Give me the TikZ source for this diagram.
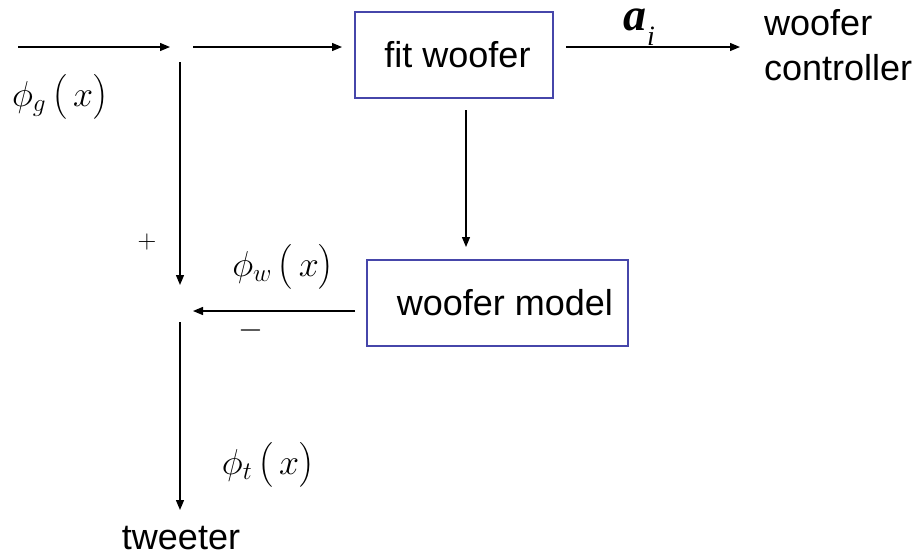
\RequirePackage{fix-cm}
\documentclass[tikz,border=0pt]{standalone}
\usepackage{amsmath}
\usepackage{fontspec}
\setmainfont{Liberation Sans}
\newfontfamily\serifit{Liberation Serif}
\usetikzlibrary{arrows.meta}
\definecolor{boxblue}{RGB}{70,70,170}
\tikzset{
  conn/.style={line width=1.3pt, -{Triangle[length=10pt,width=8pt]}},
  blockbox/.style={draw=boxblue, line width=1.2pt, inner sep=0pt, font=\fontsize{36}{43}\selectfont},
  txt/.style={inner sep=0pt, font=\fontsize{36}{45}\selectfont},
  mathlbl/.style={inner sep=0pt, font=\fontsize{36}{40}\selectfont},
}
\begin{document}
\begin{tikzpicture}[x=1pt,y=-1pt]
\useasboundingbox (0,0) rectangle (922,558);
% blocks
\node[blockbox, minimum width=198pt, minimum height=86pt] (fw) at (454,55) {\hspace{7pt}fit woofer};
\node[blockbox, minimum width=261pt, minimum height=86pt] (wm) at (497.5,303) {\hspace{15pt}woofer model};
% coordinates
\coordinate (in0) at (18,47);
\coordinate (s1) at (170,47);
\coordinate (s2) at (193,47);
\coordinate (fwin) at (342,47);
\coordinate (fwout) at (566,47);
\coordinate (wcin) at (740,47);
\coordinate (vtop) at (180,62);
\coordinate (vsum) at (180,285);
\coordinate (fwbot) at (466,110);
\coordinate (wmtop) at (466,247);
\coordinate (wmout) at (355,311);
\coordinate (sumr) at (193,311);
\coordinate (vbot) at (180,322);
\coordinate (tw) at (180,510);
% text nodes
\node[txt, anchor=west, align=left] (wc) at (764,45) {woofer\\controller};
\node[txt] (tweeter) at (181,538) {tweeter};
% connectors
\draw[conn] (in0) -- (s1);
\draw[conn] (s2) -- (fwin);
\draw[conn] (fwout) -- (wcin);
\draw[conn] (vtop) -- (vsum);
\draw[conn] (fwbot) -- (wmtop);
\draw[conn] (wmout) -- (sumr);
\draw[conn] (vbot) -- (tw);
% labels
\node[inner sep=0pt, anchor=base west, font=\fontsize{46}{48}\serifit\bfseries\itshape] (ai) at (623,30)
  {a\kern1pt\raisebox{-15pt}{\fontsize{28}{30}\serifit\mdseries\itshape i}};
\node[mathlbl] (phig) at (60,97) {$\phi_{g}\,\bigl(\,x\bigr)$};
\node[mathlbl] (phiw) at (283,267) {$\phi_{w}\,\bigl(\,x\bigr)$};
\node[mathlbl] (phit) at (268,465) {$\phi_{t}\,\bigl(\,x\bigr)$};
\node[mathlbl, font=\fontsize{26}{30}\selectfont] (plus) at (147,242) {$+$};
\node[mathlbl, font=\fontsize{32}{34}\selectfont] (minus) at (251,330) {$-$};
\end{tikzpicture}
\end{document}
